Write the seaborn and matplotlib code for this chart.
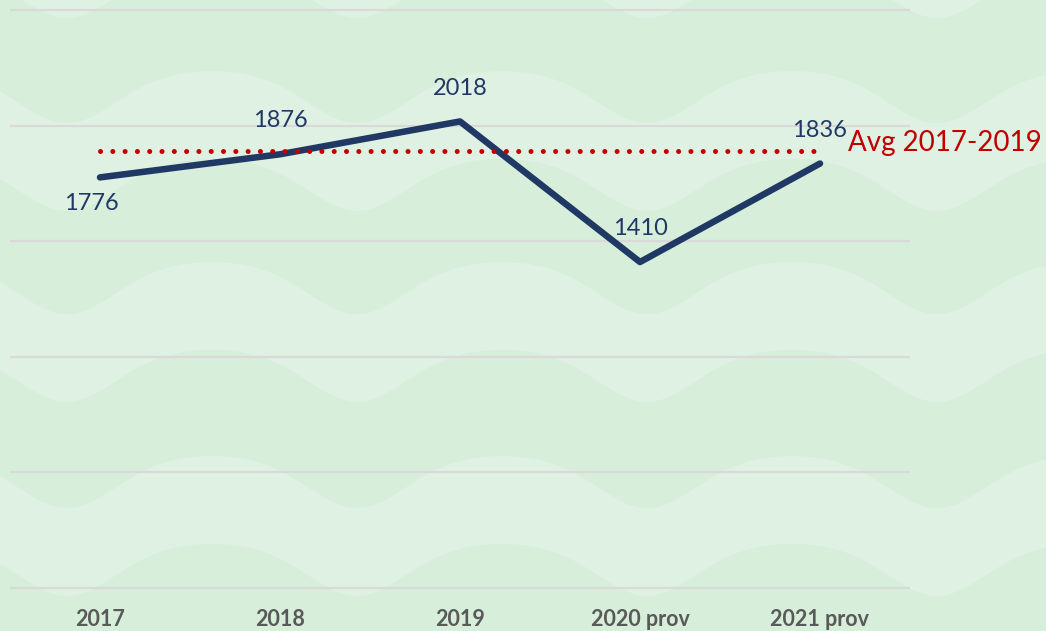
import numpy as np
import pandas as pd
import seaborn as sns
import matplotlib.pyplot as plt

# chart data
years = ["2017", "2018", "2019", "2020 prov", "2021 prov"]
values = [1776, 1876, 2018, 1410, 1836]
avg_label = "Avg 2017-2019"
y_ticks = [0, 500, 1000, 1500, 2000, 2500]

avg_value = np.mean(values[:3])
df = pd.DataFrame({"year": years, "value": values, "avg": [avg_value] * len(years)})

sns.set_theme(style="white")
plt.rcParams["font.family"] = ["Lato", "DejaVu Sans"]

navy = "#203864"
red = "#C00000"
bg_dark = "#D6EEDA"
bg_light = "#DFF1E3"

fig = plt.figure(figsize=(10.46, 6.31), dpi=100)
fig.patch.set_facecolor(bg_dark)

# wavy background decoration (pixel coordinates)
bg = fig.add_axes([0, 0, 1, 1])
bg.set_xlim(0, 1046)
bg.set_ylim(631, 0)
bg.axis("off")
xs = np.linspace(0, 1046, 600)
phase = 2 * np.pi * (xs - 67) / 290
wave = 26 * np.cos(phase + 0.35 * np.sin(phase))
for top in [-96, 97, 288, 482, 675]:
    bg.fill_between(xs, top + wave, top + 88 + wave, color=bg_light, lw=0)

# main axes
W, H = 1046, 631
ax = fig.add_axes([10 / W, (H - 592.6) / H, 900 / W, 587.2 / H])
ax.patch.set_alpha(0)

sns.lineplot(data=df, x="year", y="value", ax=ax, color=navy, linewidth=4.7,
             sort=False, solid_capstyle="round")
line_avg, = ax.plot(df["year"], df["avg"], color=red, linewidth=3.6)
line_avg.set_dashes((0.01, 2.45))
line_avg.set_dash_capstyle("round")

ax.set_xlim(-0.5, 4.5)
ax.set_ylim(-20, 2520)
ax.set_yticks(y_ticks)
ax.set_yticklabels([])
ax.grid(axis="y", color="#D9D9D9", linewidth=1.6)
ax.grid(axis="x", visible=False)
ax.set_axisbelow(True)
for s in ax.spines.values():
    s.set_visible(False)
ax.tick_params(axis="both", length=0)
ax.tick_params(axis="x", pad=12)
ax.set_xlabel(None)
ax.set_ylabel(None)
for lab in ax.get_xticklabels():
    lab.set_fontweight("bold")
    lab.set_fontsize(15.5)
    lab.set_color("#595959")

# data labels
offsets = [(-6, -19), (0, 24), (0, 24), (0, 24), (0, 24)]
for i, (v, off) in enumerate(zip(values, offsets)):
    ax.annotate(str(v), (i, v), xytext=off, textcoords="offset points",
                ha="center", va="center", fontsize=17, color=navy)

ax.annotate(avg_label, (len(years) - 1, avg_value), xytext=(20, 6),
            textcoords="offset points", ha="left", va="center",
            fontsize=20, color=red, annotation_clip=False)

fig.savefig("out.png", dpi=100, facecolor=fig.get_facecolor())
